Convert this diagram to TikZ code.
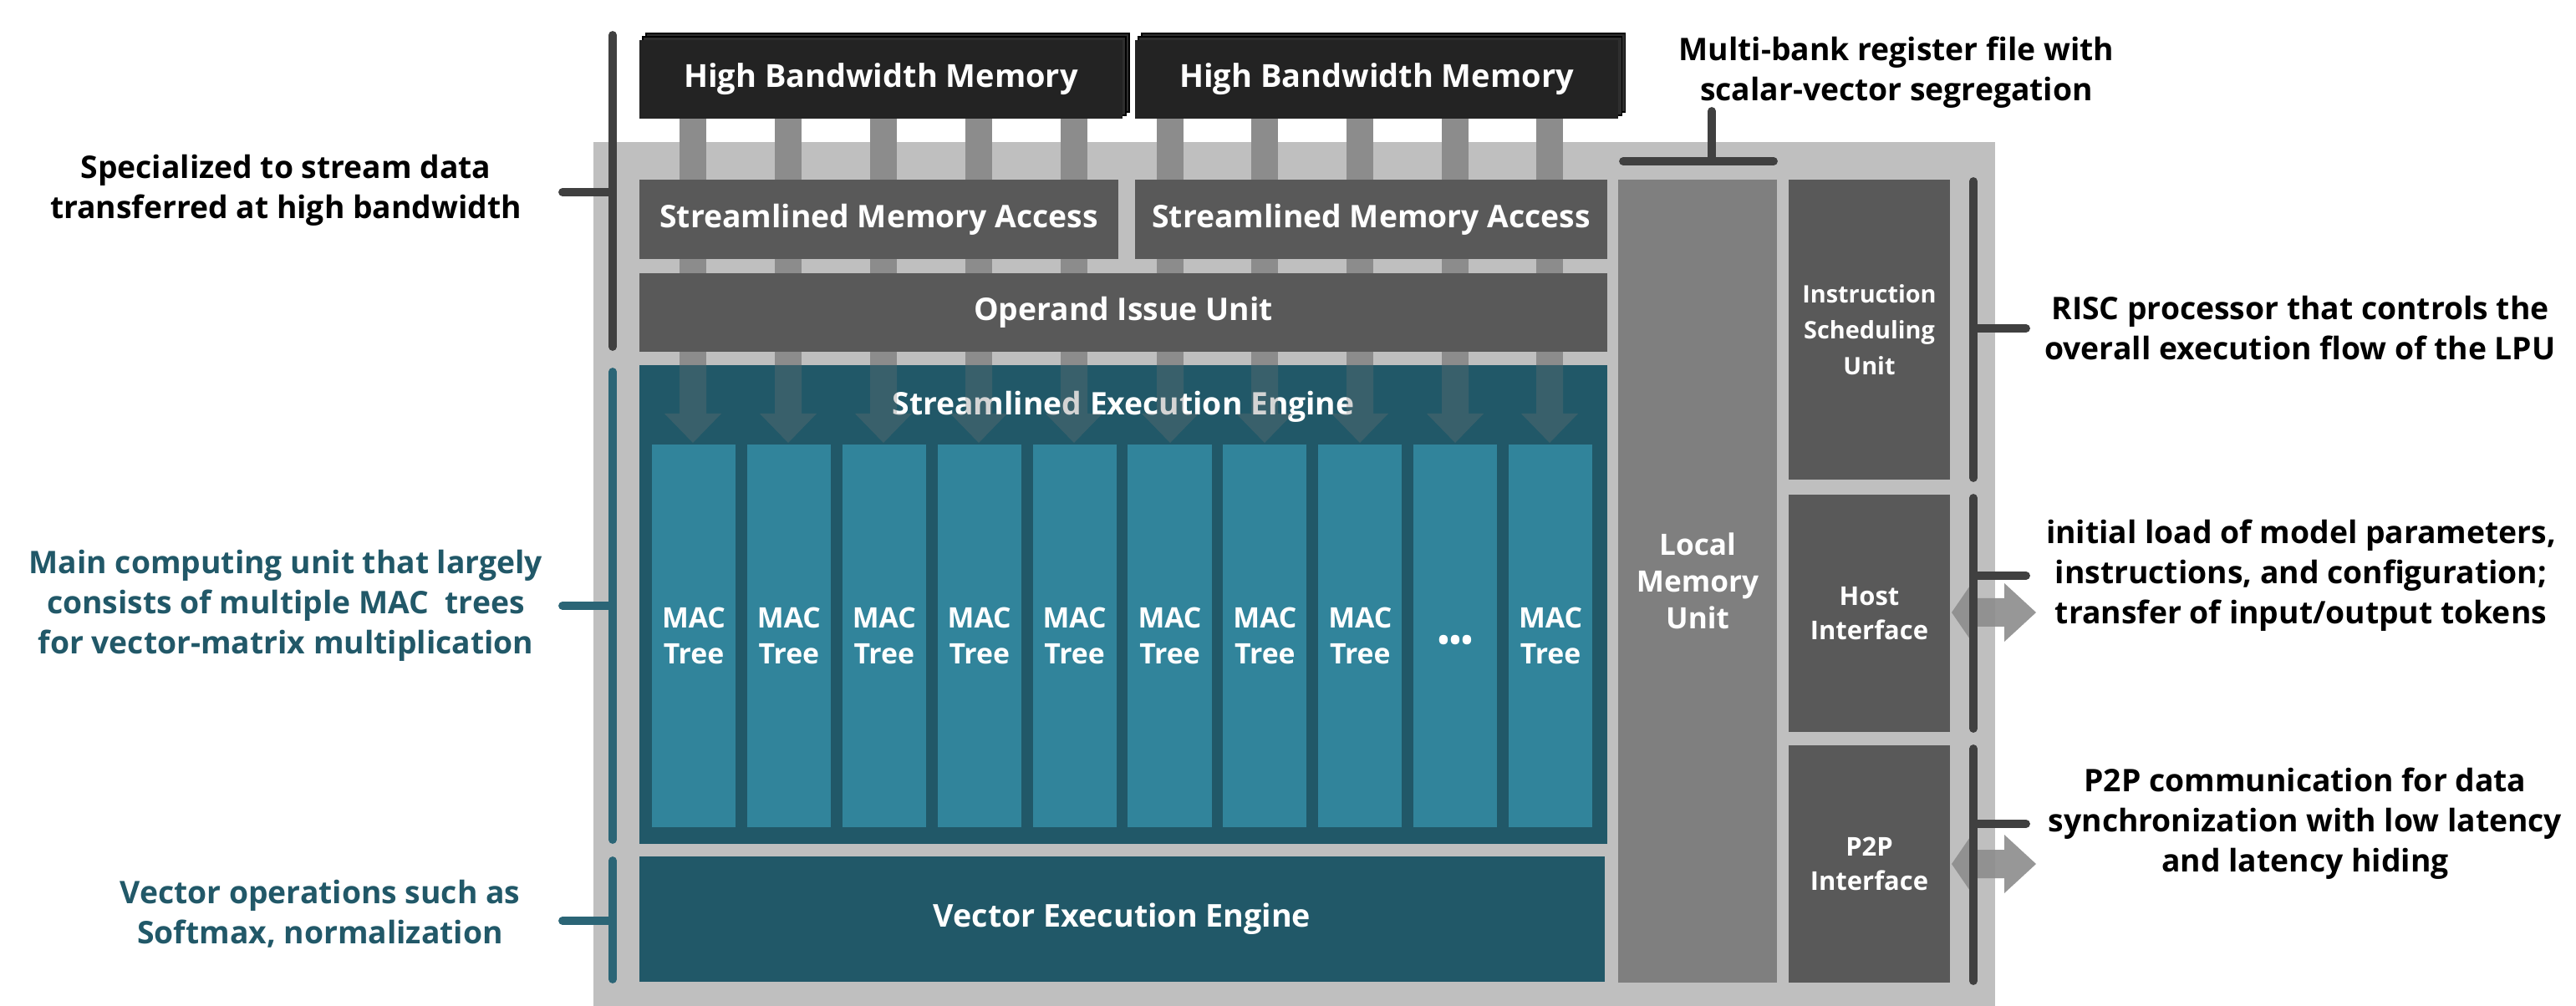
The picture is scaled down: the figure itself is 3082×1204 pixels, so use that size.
\documentclass[tikz,border=0pt]{standalone}
\usepackage{fontspec}
\setmainfont{Open Sans}
\definecolor{bgray}{HTML}{BFBFBF}
\definecolor{dgray}{HTML}{595959}
\definecolor{mgray}{HTML}{7F7F7F}
\definecolor{hbmc}{HTML}{232323}
\definecolor{hbmb}{HTML}{2E2E2E}
\definecolor{teald}{HTML}{215868}
\definecolor{teall}{HTML}{31849B}
\definecolor{barc}{HTML}{8C8C8C}
\definecolor{brkc}{HTML}{404040}
\definecolor{tealb}{HTML}{2B6576}
\begin{document}
\begin{tikzpicture}[x=0.01cm,y=-0.01cm,
  box/.style={inner sep=0pt,outer sep=0pt,text=white,align=center,font=\bfseries\fontsize{10.6}{12}\selectfont},
  dbox/.style={box,fill=dgray},
  macbox/.style={box,fill=teall,minimum width=1cm,minimum height=4.58cm,font=\bfseries\fontsize{9.6}{12.2}\selectfont},
  sidebox/.style={box,fill=dgray,minimum width=1.93cm,font=\bfseries\fontsize{8.8}{11.7}\selectfont},
  ann/.style={inner sep=0pt,align=center,font=\bfseries\fontsize{10.6}{13.66}\selectfont},
  tann/.style={ann,text=teald},
  brk/.style={line width=2.8pt,line cap=round,draw=brkc},
  tbrk/.style={brk,draw=tealb},
  dblarrow/.style={fill=barc,opacity=0.9},
]
\useasboundingbox (0,0) rectangle (3082,1204);
% main gray chip area
\fill[bgray] (710,170) rectangle (2387,1204);
% HBM stacks (back layers)
\foreach \xa in {765,1358}{
  \fill[hbmb,draw=black,line width=0.3pt] (\xa+8,40) rectangle (\xa+586,134);
  \fill[hbmb,draw=black,line width=0.3pt] (\xa+4,44) rectangle (\xa+582,138);
}
\node[box,fill=hbmc,minimum width=5.78cm,minimum height=0.94cm,font=\bfseries\fontsize{10.8}{12}\selectfont] (hbm1) at (1054,95) {High Bandwidth Memory};
\node[box,fill=hbmc,minimum width=5.78cm,minimum height=0.94cm,font=\bfseries\fontsize{10.8}{12}\selectfont] (hbm2) at (1647,95) {High Bandwidth Memory};
% data bars
\foreach \xc in {829,943,1057,1171,1285,1400,1513,1627,1741,1854}{
  \fill[barc] (\xc-16,142) rectangle (\xc+16,437);
}
% boxes
\node[dbox,minimum width=5.73cm,minimum height=0.95cm] (sma1) at (1051.5,262.5) {Streamlined Memory Access};
\node[dbox,minimum width=5.65cm,minimum height=0.95cm] (sma2) at (1640.5,262.5) {Streamlined Memory Access};
\node[dbox,minimum width=11.58cm,minimum height=0.94cm] (oiu) at (1344,374) {Operand Issue Unit};
\node[box,fill=teald,minimum width=11.58cm,minimum height=5.73cm] (see) at (1344,723.5) {};
\node[box] (seelabel) at (1344,487) {Streamlined Execution Engine};
% arrows inside SEE
\foreach \xc in {829,943,1057,1171,1285,1400,1513,1627,1741,1854}{
  \fill[gray!90!black,opacity=0.3] (\xc-16,437) -- (\xc+16,437) -- (\xc+16,495) -- (\xc+34,495) -- (\xc,530) -- (\xc-34,495) -- (\xc-16,495) -- cycle;
}
% MAC trees
\foreach \i in {0,...,7}{
  \node[macbox] (mac\i) at (830+113.9*\i,761) {MAC\\Tree};
}
\node[macbox] (mac8) at (830+113.9*8,761) {};
\node[box,font=\bfseries\fontsize{10.5}{10.5}\selectfont] (dots) at (mac8.center |- 0,770) {•••};
\node[macbox] (mac9) at (830+113.9*9,761) {MAC\\Tree};
% vector engine
\node[box,fill=teald,minimum width=11.55cm,minimum height=1.5cm,font=\bfseries\fontsize{10.7}{12}\selectfont] (vee) at (1342.5,1100) {Vector Execution Engine};
% right column
\node[box,fill=mgray,minimum width=1.9cm,minimum height=9.61cm,font=\bfseries\fontsize{10}{12.5}\selectfont] (lmu) at (2031,695.5) {Local\\Memory\\Unit};
\node[sidebox,minimum height=3.59cm,font=\bfseries\fontsize{8.2}{12.2}\selectfont] (isu) at (2236.5,394.5) {Instruction\\Scheduling\\Unit};
\node[sidebox,minimum height=2.84cm] (host) at (2236.5,734) {Host\\Interface};
\node[sidebox,minimum height=2.84cm] (p2p) at (2236.5,1034) {P2P\\Interface};
% double arrows
\foreach \yc in {733,1034}{
  \fill[dblarrow] (2335,\yc) -- (2359,\yc-35) -- (2359,\yc-17) -- (2398,\yc-17) -- (2398,\yc-35) -- (2436,\yc) -- (2398,\yc+35) -- (2398,\yc+17) -- (2359,\yc+17) -- (2359,\yc+35) -- cycle;
}
% annotations
\node[ann] (aspec) at (342,228) {Specialized to stream data\\transferred at high bandwidth};
\node[tann] (amain) at (342,725) {Main computing unit that largely\\consists of multiple MAC\ \ trees\\for vector-matrix multiplication};
\node[tann] (avec) at (383,1094) {Vector operations such as\\Softmax, normalization};
\node[ann] (amulti) at (2269,87) {Multi-bank register file with\\scalar-vector segregation};
\node[ann] (arisc) at (2752,393) {RISC processor that controls the\\overall execution flow of the LPU};
\node[ann] (ahost) at (2753,689) {initial load of model parameters,\\instructions, and configuration;\\transfer of input/output tokens};
\node[ann] (ap2p) at (2758,986) {P2P communication for data\\synchronization with low latency\\and latency hiding};
% bracket coordinates
\coordinate (lb1t) at (733,42);   \coordinate (lb1b) at (733,415);
\coordinate (lb2t) at (733,445);  \coordinate (lb2b) at (733,1005);
\coordinate (lb3t) at (733,1030); \coordinate (lb3b) at (733,1172);
\coordinate (t1) at (673,230); \coordinate (t1e) at (733,230);
\coordinate (t2) at (673,725); \coordinate (t2e) at (733,725);
\coordinate (t3) at (673,1102); \coordinate (t3e) at (733,1102);
\coordinate (tbl) at (1942,193); \coordinate (tbr) at (2122,193);
\coordinate (tbt) at (2048,133); \coordinate (tbm) at (2048,193);
\coordinate (rb1t) at (2361,217); \coordinate (rb1b) at (2361,572);
\coordinate (rb2t) at (2361,596); \coordinate (rb2b) at (2361,872);
\coordinate (rb3t) at (2361,896); \coordinate (rb3b) at (2361,1174);
\coordinate (r1) at (2424,393); \coordinate (r1e) at (2361,393);
\coordinate (r2) at (2424,689); \coordinate (r2e) at (2361,689);
\coordinate (r3) at (2424,986); \coordinate (r3e) at (2361,986);
% brackets
\draw[brk] (lb1t) -- (lb1b);
\draw[brk] (t1) -- (t1e);
\draw[tbrk] (lb2t) -- (lb2b);
\draw[tbrk] (t2) -- (t2e);
\draw[tbrk] (lb3t) -- (lb3b);
\draw[tbrk] (t3) -- (t3e);
\draw[brk] (tbl) -- (tbr);
\draw[brk] (tbt) -- (tbm);
\draw[brk] (rb1t) -- (rb1b);
\draw[brk] (rb2t) -- (rb2b);
\draw[brk] (rb3t) -- (rb3b);
\draw[brk] (r1e) -- (r1);
\draw[brk] (r2e) -- (r2);
\draw[brk] (r3e) -- (r3);
\end{tikzpicture}
\end{document}
